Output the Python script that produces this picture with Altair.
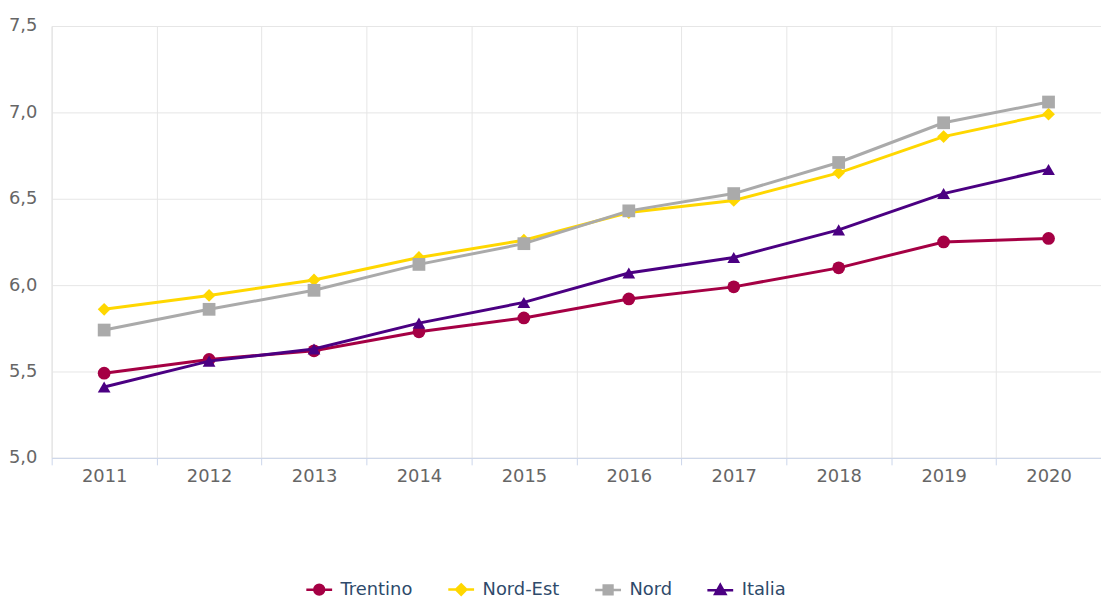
import altair as alt
import pandas as pd

years = ["2011", "2012", "2013", "2014", "2015", "2016", "2017", "2018", "2019", "2020"]
series = ["Trentino", "Nord-Est", "Nord", "Italia"]
trentino = [5.49, 5.57, 5.62, 5.73, 5.81, 5.92, 5.99, 6.10, 6.25, 6.27]
nord_est = [5.86, 5.94, 6.03, 6.16, 6.26, 6.42, 6.49, 6.65, 6.86, 6.99]
nord = [5.74, 5.86, 5.97, 6.12, 6.24, 6.43, 6.53, 6.71, 6.94, 7.06]
italia = [5.41, 5.56, 5.63, 5.78, 5.90, 6.07, 6.16, 6.32, 6.53, 6.67]
y_ticks = [5.0, 5.5, 6.0, 6.5, 7.0, 7.5]

colors = ["#a50044", "#ffd700", "#aaaaaa", "#4b0082"]
shapes = ["circle", "diamond", "square", "triangle-up"]
legend_paths = [
    "M-1,0H1M0.38,0A0.38,0.38,0,1,1,-0.38,0A0.38,0.38,0,1,1,0.38,0Z",
    "M-1,0H1M0,-0.4L0.4,0L0,0.4L-0.4,0Z",
    "M-1,0H1M-0.34,-0.34H0.34V0.34H-0.34Z",
    "M-1,0H1M0,-0.42L0.4,0.3H-0.4Z",
]

values = {"Trentino": trentino, "Nord-Est": nord_est, "Nord": nord, "Italia": italia}
rows = []
for s in series:
    for yr, v in zip(years, values[s]):
        rows.append({"Year": yr, "Series": s, "Value": v})
df = pd.DataFrame(rows)

font = "DejaVu Sans"

legend = alt.Legend(
    title=None,
    orient="none",
    direction="horizontal",
    legendX=255,
    legendY=553,
    labelFont=font,
    labelFontSize=18,
    labelColor="#2e4a6b",
    symbolSize=676,
    symbolStrokeWidth=2.5,
    symbolOpacity=1,
    labelOffset=7,
    columnPadding=30,
)

x_enc = alt.X(
    "Year:O",
    title=None,
    scale=alt.Scale(domain=years),
    axis=alt.Axis(
        labelAngle=0,
        tickBand="extent",
        grid=True,
        gridColor="#e6e6e6",
        domainColor="#ccd6eb",
        tickColor="#ccd6eb",
        tickSize=7,
        labelPadding=3,
        labelFont=font,
        labelFontSize=18,
        labelColor="#666666",
    ),
)
y_enc = alt.Y(
    "Value:Q",
    title=None,
    scale=alt.Scale(domain=[5.0, 7.5], nice=False, zero=False),
    axis=alt.Axis(
        values=y_ticks,
        labelExpr="replace(format(datum.value, '.1f'), '.', ',')",
        domain=False,
        ticks=False,
        tickSize=0,
        labelPadding=15,
        grid=True,
        gridColor="#e6e6e6",
        labelFont=font,
        labelFontSize=18,
        labelColor="#666666",
    ),
)
color_enc = alt.Color("Series:N", scale=alt.Scale(domain=series, range=colors), legend=None)
shape_enc = alt.Shape("Series:N", scale=alt.Scale(domain=series, range=shapes), legend=None)

base = alt.Chart(df).encode(x=x_enc, y=y_enc, color=color_enc)

layers = []
for s in series:
    sub = base.transform_filter(alt.datum.Series == s)
    layers.append(sub.mark_line(strokeWidth=3))
    layers.append(sub.mark_point(filled=True, size=165, opacity=1).encode(shape=shape_enc))

# legend-only layer (no rows drawn), symbols combine line and marker
ghost = (
    alt.Chart(df)
    .transform_filter("false")
    .mark_point(filled=True, size=676, opacity=1, strokeWidth=2.5)
    .encode(
        x=x_enc,
        y=y_enc,
        fill=alt.Fill("Series:N", scale=alt.Scale(domain=series, range=colors), legend=legend),
        stroke=alt.Stroke("Series:N", scale=alt.Scale(domain=series, range=colors), legend=legend),
        shape=alt.Shape("Series:N", scale=alt.Scale(domain=series, range=legend_paths), legend=legend),
    )
)
layers.append(ghost)

chart = (
    alt.layer(*layers)
    .resolve_scale(shape="independent", fill="independent", stroke="independent")
    .properties(
        width=1057,
        height=435,
        autosize=alt.AutoSizeParams(type="none"),
        padding={"left": 44, "top": 16, "right": 0, "bottom": 140},
    )
    .configure_view(stroke=None)
    .configure(font=font)
)

chart.save("out.html", embed_options={"renderer": "svg", "actions": False})
